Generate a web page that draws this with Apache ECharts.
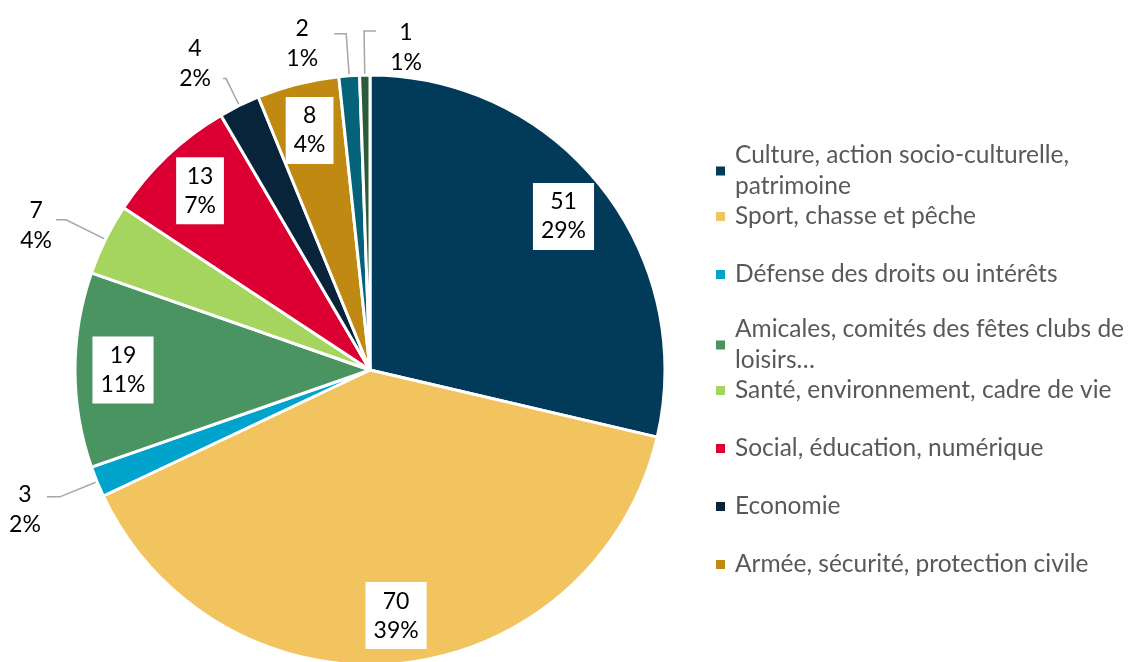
<!DOCTYPE html>
<html>
<head>
<meta charset="utf-8">
<script src="https://cdn.jsdelivr.net/npm/echarts@6/dist/echarts.min.js"></script>
<style>
  html, body { margin: 0; padding: 0; background: #ffffff; }
  #chart { width: 1131px; height: 662px; }
</style>
</head>
<body>
<div id="chart"></div>
<script>
// Associations by field of activity
const categories = [
  'Culture, action socio-culturelle, patrimoine',
  'Sport, chasse et pêche',
  'Défense des droits ou intérêts',
  'Amicales, comités des fêtes clubs de loisirs…',
  'Santé, environnement, cadre de vie',
  'Social, éducation, numérique',
  'Economie',
  'Armée, sécurité, protection civile',
  'Autres',
  'Non classé'
];
const counts = [51, 70, 3, 19, 7, 13, 4, 8, 2, 1];
const colors = ['#023B5A', '#F2C45F', '#00A3CB', '#4A9462', '#A5D55F',
                '#DC0032', '#07243A', '#C08912', '#046279', '#2D5A3A'];

// Legend entries (first eight categories) with their wrapped display text
const legendNames = categories.slice(0, 8);
const legendText = {
  'Culture, action socio-culturelle, patrimoine': 'Culture, action socio-culturelle,\npatrimoine',
  'Amicales, comités des fêtes clubs de loisirs…': 'Amicales, comités des fêtes clubs de\nloisirs…'
};

const FONT = 'Lato, "Liberation Sans", sans-serif';
const total = counts.reduce((a, b) => a + b, 0);
// each share rounded on its own
const labelText = p => p.value + '\n' + Math.round(p.value / total * 100) + '%';

// Small slices get an outside label with a leader line;
// dx/dy place the label block relative to the end of its line
const outside = {
  2: { len: 40, len2: 13, dx: -22, dy: 13 },
  4: { len: 44, len2: 10, dx: -20, dy: 6 },
  6: { len: 30, len2: 3, dx: -28, dy: -15 },
  8: { len: 42, len2: 12, dx: -32, dy: 10 },
  9: { len: 44, len2: 12, dx: 30, dy: 17, flip: true }
};

const mainData = counts.map((v, i) => {
  const item = { name: categories[i], value: v, itemStyle: { color: colors[i] } };
  const o = outside[i];
  if (o) {
    item.label = { show: true, position: 'outside' };
    item.labelLine = { show: true, length: o.len, length2: o.len2 };
  }
  return item;
});

// Label ring: same slices, transparent, so inside labels sit near the rim
const ringData = counts.map((v, i) => ({
  name: categories[i],
  value: v,
  label: { show: !outside[i] }
}));

// One legend block per entry, on a regular vertical pitch; a wrapped
// second line hangs below its entry without shifting the next one
const LEGEND_TOP = 143;
const LEGEND_PITCH = 58;
const LEGEND_LINE = 31;
const legends = legendNames.map((name, i) => {
  const lines = (legendText[name] || name).split('\n').length;
  return {
    data: [name],
    orient: 'vertical',
    left: 714,
    top: LEGEND_TOP + i * LEGEND_PITCH,
    padding: 0,
    icon: 'rect',
    itemWidth: 11,
    itemHeight: 11,
    selectedMode: false,
    formatter: n => legendText[n] || n,
    textStyle: {
      fontFamily: FONT,
      fontSize: 24.5,
      color: '#595959',
      lineHeight: LEGEND_LINE,
      padding: [0, 0, -(lines - 1) * LEGEND_LINE, 4]
    }
  };
});

const chart = echarts.init(document.getElementById('chart'), null, { renderer: 'canvas' });
chart.setOption({
  backgroundColor: '#ffffff',
  animation: false,
  legend: legends,
  series: [
    {
      type: 'pie',
      center: [370, 370],
      radius: [0, 295],
      startAngle: 90,
      clockwise: true,
      avoidLabelOverlap: false,
      silent: true,
      itemStyle: { borderColor: '#ffffff', borderWidth: 3 },
      label: {
        show: false,
        formatter: labelText,
        fontFamily: FONT,
        fontSize: 23,
        lineHeight: 30,
        color: '#000000',
        align: 'center'
      },
      labelLine: {
        show: false,
        lineStyle: { color: '#A6A6A6', width: 1.5 }
      },
      labelLayout: function (params) {
        const o = outside[params.dataIndex];
        if (!o || !params.labelLinePoints) return {};
        const pts = params.labelLinePoints;
        const elbow = pts[1];
        let end = pts[2];
        if (o.flip) end = [2 * elbow[0] - end[0], end[1]];
        return {
          x: end[0] + o.dx,
          y: end[1] + o.dy,
          align: 'center',
          verticalAlign: 'middle',
          labelLinePoints: [pts[0], elbow, end]
        };
      },
      data: mainData
    },
    {
      type: 'pie',
      center: [370, 370],
      radius: [193, 295],
      startAngle: 90,
      clockwise: true,
      silent: true,
      z: 3,
      itemStyle: { color: 'rgba(0,0,0,0)', borderWidth: 0 },
      label: {
        show: true,
        position: 'inside',
        formatter: labelText,
        fontFamily: FONT,
        fontSize: 23,
        lineHeight: 29,
        color: '#000000',
        backgroundColor: '#ffffff',
        padding: [5, 8, 4, 8]
      },
      labelLine: { show: false },
      data: ringData
    }
  ]
});
</script>
</body>
</html>
